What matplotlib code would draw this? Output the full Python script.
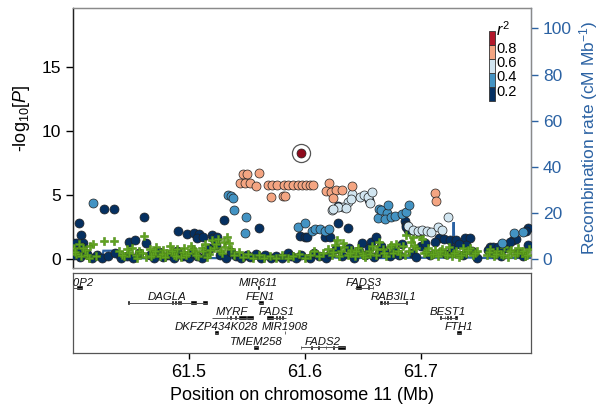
import numpy as np
import matplotlib
matplotlib.use("Agg")
import matplotlib.pyplot as plt
from matplotlib.patches import Rectangle

plt.rcParams['font.family'] = ['Liberation Sans', 'DejaVu Sans']
plt.rcParams['mathtext.fontset'] = 'custom'
plt.rcParams['mathtext.rm'] = 'Liberation Sans'
plt.rcParams['mathtext.it'] = 'Liberation Sans:italic'

# ---- association results, grouped by LD bin with the lead SNP ----
lead_pos = [61.597]
lead_p = [8.3]

pos_08 = [61.5468, 61.5497, 61.5603, 61.544, 61.548, 61.5526, 61.5575,
          61.5684, 61.5714, 61.5756, 61.582, 61.5856, 61.5899, 61.5937, 61.5971,
          61.6009, 61.6043, 61.6071, 61.571, 61.581, 61.5828,
          61.6205, 61.618, 61.6224, 61.627, 61.6316, 61.6245, 61.641,
          61.712, 61.713]
p_08 = [6.61, 6.61, 6.74, 5.91, 5.91, 5.91, 5.7,
        5.8, 5.8, 5.8, 5.8, 5.8, 5.8, 5.8, 5.8,
        5.8, 5.8, 5.8, 4.82, 4.92, 4.9,
        5.96, 5.34, 5.23, 5.39, 5.39, 4.74, 5.7,
        5.13, 4.55]

pos_06 = [61.6408, 61.637, 61.633, 61.6287, 61.6235, 61.6474, 61.651, 61.6546,
          61.6575, 61.656, 61.6397, 61.6245, 61.6355, 61.689, 61.693, 61.6977,
          61.7006, 61.7049, 61.709, 61.715, 61.718, 61.7236]
p_06 = [5.08, 4.48, 4.09, 4.09, 3.83, 4.87, 5.0, 4.82,
        5.26, 4.35, 4.66, 3.9, 4.0, 2.58, 2.27, 2.19,
        2.27, 2.19, 2.08, 2.48, 2.27, 3.3]

pos_04 = [61.4175, 61.534, 61.5365, 61.538, 61.539, 61.549, 61.548, 61.5937,
          61.6, 61.6058, 61.6086, 61.613, 61.617, 61.6207, 61.664, 61.663,
          61.666, 61.671, 61.672, 61.669, 61.674, 61.678, 61.6834, 61.6876,
          61.69, 61.77, 61.78, 61.788]
p_04 = [4.4, 5.0, 4.95, 4.74, 3.83, 3.3, 2.0, 2.52,
        2.79, 2.21, 2.32, 2.32, 2.21, 2.32, 3.88, 3.18,
        3.83, 3.57, 4.22, 3.1, 3.3, 3.36, 3.49, 3.7,
        4.22, 1.22, 2.0, 2.13]

pos_02 = [61.4054, 61.407, 61.427, 61.435, 61.4615, 61.53, 61.4908, 61.4985,
          61.504, 61.5085, 61.5066, 61.512, 61.5196, 61.521, 61.524, 61.4486,
          61.4534, 61.4629, 61.4003, 61.403, 61.409, 61.408, 61.56, 61.596,
          61.6, 61.602, 61.617, 61.6215, 61.6287, 61.637, 61.649, 61.657,
          61.661, 61.666, 61.686, 61.687, 61.6876, 61.689, 61.6905, 61.716,
          61.72, 61.725, 61.73, 61.738, 61.742, 61.739, 61.7595, 61.762,
          61.7665, 61.7795, 61.782, 61.7926, 61.7905, 61.6555, 61.6287,
          61.401, 61.404, 61.406, 61.412, 61.416, 61.421, 61.425, 61.43,
          61.436, 61.441, 61.447, 61.452, 61.457, 61.466, 61.47, 61.474,
          61.478, 61.483, 61.487, 61.49, 61.495, 61.5, 61.503, 61.507,
          61.511, 61.515, 61.518, 61.523, 61.527, 61.532, 61.536, 61.541,
          61.545, 61.55, 61.553, 61.558, 61.562, 61.566, 61.571, 61.575,
          61.58, 61.585, 61.588, 61.592, 61.597, 61.604, 61.608, 61.612,
          61.618, 61.622, 61.627, 61.632, 61.638, 61.642, 61.647, 61.652,
          61.655, 61.66, 61.664, 61.668, 61.673, 61.677, 61.681, 61.684,
          61.692, 61.696, 61.7, 61.704, 61.708, 61.712, 61.722, 61.727,
          61.733, 61.736, 61.744, 61.748, 61.758, 61.764, 61.769, 61.773,
          61.777, 61.784, 61.788, 61.792]
p_02 = [2.8, 1.9, 3.93, 3.93, 3.3, 3.05, 2.19, 1.95,
        2.05, 1.95, 1.62, 1.75, 1.87, 1.62, 1.75, 1.35,
        1.48, 1.22, 1.22, 1.22, 1.22, 0.95, 2.45, 1.8,
        1.75, 1.75, 1.74, 1.74, 2.79, 2.45, 1.27, 1.3,
        1.74, 1.0, 3.0, 2.66, 2.48, 2.3, 2.3, 1.62,
        1.55, 1.5, 1.5, 1.62, 1.62, 1.1, 0.96, 0.96,
        0.96, 1.48, 1.55, 2.4, 2.2, 4.6, 4.15,
        0.35, 0.6, 0.15, 0.4, 0.1, 0.3, 0.05, 0.2,
        0.45, 0.1, 0.25, 0.05, 0.5, 0.3, 0.1, 0.55,
        0.15, 0.35, 0.05, 0.6, 0.2, 0.1, 0.45, 0.25,
        0.05, 0.4, 0.9, 1.1, 0.3, 0.1, 0.55, 0.2,
        0.05, 0.3, 0.15, 0.4, 0.1, 0.35, 0.05, 0.25,
        0.1, 0.45, 0.2, 0.05, 0.35, 0.1, 0.5, 0.2,
        0.05, 0.4, 0.75, 0.2, 0.9, 0.1, 0.6, 0.3,
        0.85, 0.15, 0.45, 0.6, 0.2, 0.7, 0.35, 1.2,
        0.5, 0.15, 1.0, 1.25, 0.3, 1.3, 0.4, 0.8,
        1.2, 0.3, 0.6, 0.1, 0.7, 0.4, 0.2, 0.9,
        1.3, 0.5, 0.25, 1.1]

# SNPs without LD information
pos_na = [61.401, 61.403, 61.405, 61.407, 61.41, 61.412, 61.415, 61.4175,
          61.42, 61.427, 61.435, 61.44, 61.444, 61.448, 61.451, 61.454,
          61.457, 61.4615, 61.463, 61.466, 61.469, 61.472, 61.475, 61.478,
          61.481, 61.484, 61.487, 61.49, 61.493, 61.496, 61.499, 61.502,
          61.505, 61.508, 61.511, 61.514, 61.517, 61.52, 61.522, 61.525,
          61.527, 61.53, 61.533, 61.536, 61.539, 61.543, 61.547, 61.551,
          61.555, 61.56, 61.565, 61.57, 61.575, 61.58, 61.585, 61.59,
          61.595, 61.6, 61.604, 61.608, 61.612, 61.616, 61.62, 61.623,
          61.626, 61.628, 61.631, 61.634, 61.637, 61.64, 61.643, 61.646,
          61.649, 61.652, 61.655, 61.658, 61.661, 61.664, 61.667, 61.67,
          61.673, 61.676, 61.679, 61.682, 61.685, 61.6876, 61.69, 61.693,
          61.696, 61.699, 61.7006, 61.703, 61.706, 61.709, 61.712, 61.715,
          61.718, 61.721, 61.724, 61.727, 61.73, 61.733, 61.736, 61.739,
          61.742, 61.745, 61.748, 61.757, 61.76, 61.763, 61.766, 61.769,
          61.772, 61.775, 61.778, 61.781, 61.784, 61.787, 61.79, 61.793,
          61.402, 61.409, 61.4135, 61.4425, 61.4465, 61.4555, 61.4595, 61.4675,
          61.4705, 61.4765, 61.4795, 61.4855, 61.4885, 61.4945, 61.4975, 61.5035,
          61.5065, 61.5125, 61.5155, 61.5185, 61.5235, 61.5285, 61.5315, 61.5345,
          61.6245, 61.6295, 61.6325, 61.6385, 61.6445, 61.6505, 61.6565, 61.6625,
          61.6685, 61.6745, 61.6805, 61.6865, 61.6915, 61.6945, 61.7045, 61.7105,
          61.7165, 61.7225, 61.7285, 61.7345, 61.7405, 61.7465, 61.7585, 61.7645,
          61.7705, 61.7765, 61.7825, 61.7885, 61.7915]
p_na = [0.9, 0.4, 1.15, 0.2, 0.7, 0.35, 1.0, 1.17,
        0.25, 1.4, 1.4, 0.6, 0.2, 0.45, 0.9, 0.3,
        0.65, 1.82, 0.15, 0.8, 0.4, 0.95, 0.2, 0.7,
        0.5, 1.0, 0.3, 0.75, 0.15, 0.9, 0.45, 1.05,
        0.6, 0.25, 0.85, 1.2, 0.4, 1.45, 0.9, 1.6,
        0.6, 1.3, 1.7, 0.8, 0.3, 0.55, 0.15, 0.4,
        0.1, 0.3, 0.05, 0.25, 0.1, 0.35, 0.05, 0.2,
        0.4, 0.1, 0.3, 0.6, 0.2, 0.45, 0.8, 0.35,
        1.1, 1.48, 0.6, 0.95, 0.3, 0.7, 0.2, 0.9,
        0.45, 0.15, 0.65, 1.0, 0.35, 1.3, 0.75, 0.25,
        0.95, 0.5, 1.2, 0.4, 1.0, 1.87, 0.6, 1.7,
        0.9, 1.8, 1.6, 0.5, 0.9, 0.3, 0.7, 0.2,
        0.8, 0.4, 0.95, 0.25, 0.6, 0.15, 0.85, 0.45,
        0.9, 0.3, 0.6, 0.35, 0.8, 0.2, 0.65, 0.4,
        0.95, 0.15, 0.7, 0.3, 0.85, 0.5, 0.2, 0.75,
        0.55, 0.85, 0.1, 0.35, 0.75, 0.1, 0.5, 0.25,
        0.6, 0.4, 0.15, 0.65, 0.2, 0.55, 0.3, 0.8,
        0.35, 0.6, 0.15, 0.7, 1.15, 0.45, 0.95, 1.25,
        0.55, 0.2, 1.25, 0.5, 0.6, 0.3, 0.4, 0.8,
        0.45, 1.1, 0.65, 0.3, 1.35, 1.05, 0.55, 0.4,
        0.6, 0.35, 0.5, 0.3, 0.7, 0.45, 0.55, 0.4,
        0.3, 0.6, 0.45, 0.65, 0.35]

# recombination rate (cM/Mb)
rec_pos = [61.39, 61.4255, 61.4262, 61.4375, 61.4382, 61.47, 61.52, 61.56,
           61.6, 61.622, 61.624, 61.626, 61.66, 61.678, 61.6795, 61.681,
           61.72, 61.7275, 61.7283, 61.7291, 61.76, 61.8]
rec_rate = [0.5, 0.5, 3.6, 3.6, 0.4, 0.3, 0.4, 0.3,
            0.5, 0.6, 2.5, 0.6, 0.4, 0.5, 4.0, 0.5,
            0.6, 0.8, 16.0, 0.8, 0.4, 0.5]

# ---- genes ----
gene_names = ['RPLP0P2', 'DAGLA', 'MIR611', 'FEN1', 'MYRF', 'FADS1',
              'DKFZP434K028', 'MIR1908', 'TMEM258', 'FADS2', 'FADS3',
              'RAB3IL1', 'BEST1', 'FTH1']
gene_start = [61.3875, 61.4477, 61.5596, 61.5595, 61.5196, 61.567,
              61.5224, 61.5826, 61.556, 61.5963, 61.643,
              61.6647, 61.7164, 61.731]
gene_end = [61.4078, 61.5152, 61.5600, 61.5638, 61.555, 61.584,
            61.525, 61.5830, 61.5595, 61.6345, 61.659,
            61.6877, 61.7308, 61.7345]
gene_row = [4, 3, 4, 3, 2, 2, 1, 1, 0, 0, 4, 3, 2, 1]
gene_exons = [
    [(61.4034, 61.4078)],
    [(61.4477, 61.4482), (61.4858, 61.4866), (61.4881, 61.4889), (61.4904, 61.4912),
     (61.4926, 61.4934), (61.5016, 61.5059), (61.5117, 61.5152)],
    [(61.5596, 61.5600)],
    [(61.5600, 61.5638)],
    [(61.5324, 61.5332), (61.5358, 61.5366), (61.5396, 61.5404), (61.5435, 61.549),
     (61.5503, 61.555)],
    [(61.567, 61.5725), (61.575, 61.5758), (61.5775, 61.5783), (61.58, 61.581)],
    [(61.5224, 61.525)],
    [(61.5826, 61.5830)],
    [(61.556, 61.5595)],
    [(61.5963, 61.5968), (61.6052, 61.6058), (61.6115, 61.6121), (61.618, 61.6186),
     (61.6245, 61.625), (61.6285, 61.6345)],
    [(61.644, 61.648), (61.6545, 61.6552), (61.6585, 61.659)],
    [(61.6652, 61.6664), (61.6685, 61.6695), (61.6712, 61.672), (61.6872, 61.6877)],
    [(61.7164, 61.7175), (61.7205, 61.7212), (61.7228, 61.7236), (61.725, 61.7262),
     (61.7295, 61.7308)],
    [(61.731, 61.7345)],
]
# label shift for the pseudogene that runs off the left edge
label_shift = {'RPLP0P2': -0.0015}

ld_colors = ['#053061', '#4393C3', '#D1E5F0', '#F4A582', '#B2182B']
ld_breaks = ['0.2', '0.4', '0.6', '0.8']
rec_color = '#2B62A3'
green = '#5FA31F'

fig = plt.figure(figsize=(6, 4.15), dpi=100)
ax = fig.add_axes([73 / 600, 1 - 268 / 415, 458 / 600, 260 / 415])
ax2 = ax.twinx()
ax.set_zorder(ax2.get_zorder() + 1)
ax.patch.set_visible(False)

xlim = (61.4, 61.795)
ax.set_xlim(xlim)
ax.set_ylim(-0.7, 19.6)
ax2.set_ylim(-0.7 * 100 / 18, 19.6 * 100 / 18)

ax2.plot(rec_pos, rec_rate, color=rec_color, lw=1.6, solid_joinstyle='miter')

kw = dict(s=42, linewidths=0.5, edgecolors='#222222', zorder=3)
ax.scatter(pos_02, p_02, c=ld_colors[0], **kw)
ax.scatter(pos_na, p_na, marker='P', s=38, c=green, edgecolors='#4f8a16',
           linewidths=0.4, zorder=3)
ax.scatter(pos_04, p_04, c=ld_colors[1], **kw)
ax.scatter(pos_06, p_06, c=ld_colors[2], **kw)
ax.scatter(pos_08, p_08, c=ld_colors[3], **kw)
ax.scatter(lead_pos, lead_p, s=170, c='white', edgecolors='#555555', linewidths=0.9, zorder=4)
ax.scatter(lead_pos, lead_p, s=42, c='#8E0A1C', edgecolors='#222222', linewidths=0.5, zorder=5)

ax.set_xticks([])
ax.set_yticks([0, 5, 10, 15])
ax.tick_params(axis='y', labelsize=12.5, length=5, width=1, colors='black')
ax.set_ylabel(r'-log$_{10}$[$P$]', fontsize=13)
ax.yaxis.set_label_coords(-0.09, 0.575)

ax2.set_yticks([0, 20, 40, 60, 80, 100])
ax2.tick_params(axis='y', labelsize=12.5, length=5, width=1, colors=rec_color)
ax2.set_ylabel(r'Recombination rate (cM Mb$^{-1}$)', fontsize=12.5, color=rec_color)
ax2.yaxis.set_label_coords(1.1, 0.5)

for a in (ax, ax2):
    for s in a.spines.values():
        s.set_color('#8a8a8a')
        s.set_linewidth(0.9)
ax.spines['left'].set_color('#222222')
ax2.spines['left'].set_color('#222222')
ax2.spines['right'].set_color('#5577a0')

# r^2 colour key
x0, w, top, h = 0.908, 0.013, 0.9115, 0.0542
for i, c in enumerate(ld_colors):
    ax.add_patch(Rectangle((x0, top - (5 - i) * h), w, h, transform=ax.transAxes,
                           facecolor=c, edgecolor='#333333', lw=0.6, zorder=6))
for i, lab in enumerate(ld_breaks):
    ax.text(x0 + w + 0.003, top - (4 - i) * h - 0.016, lab, transform=ax.transAxes,
            fontsize=10.5, va='center', ha='left', zorder=6)
ax.text(x0 + w + 0.002, top - 0.03, r'$r^2$', transform=ax.transAxes,
        fontsize=11.5, va='bottom', ha='left', zorder=6)

# gene track
gax = fig.add_axes([73 / 600, 1 - 353 / 415, 458 / 600, 80 / 415])
gax.set_xlim(xlim)
gax.set_ylim(-0.37, 5.0)
for name, st, en, row, exons in zip(gene_names, gene_start, gene_end, gene_row, gene_exons):
    gax.hlines(row, st, en, color='#555555', lw=0.7)
    for ex0, ex1 in exons:
        gax.add_patch(Rectangle((ex0, row - 0.1), ex1 - ex0, 0.2, facecolor='black',
                                edgecolor='black', lw=0.4))
    gax.text((st + en) / 2 + label_shift.get(name, 0), row + 0.16, name,
             ha='center', va='baseline', style='italic', fontsize=8.2, color='#111111',
             clip_on=True)

gax.set_yticks([])
gax.set_xticks([61.5, 61.6, 61.7])
gax.set_xticklabels(['61.5', '61.6', '61.7'])
gax.tick_params(axis='x', labelsize=13, length=4, width=1, pad=4)
gax.set_xlabel('Position on chromosome 11 (Mb)', fontsize=13, labelpad=4)
for s in gax.spines.values():
    s.set_color('#555555')
    s.set_linewidth(0.9)

fig.savefig('out.png', dpi=100)
